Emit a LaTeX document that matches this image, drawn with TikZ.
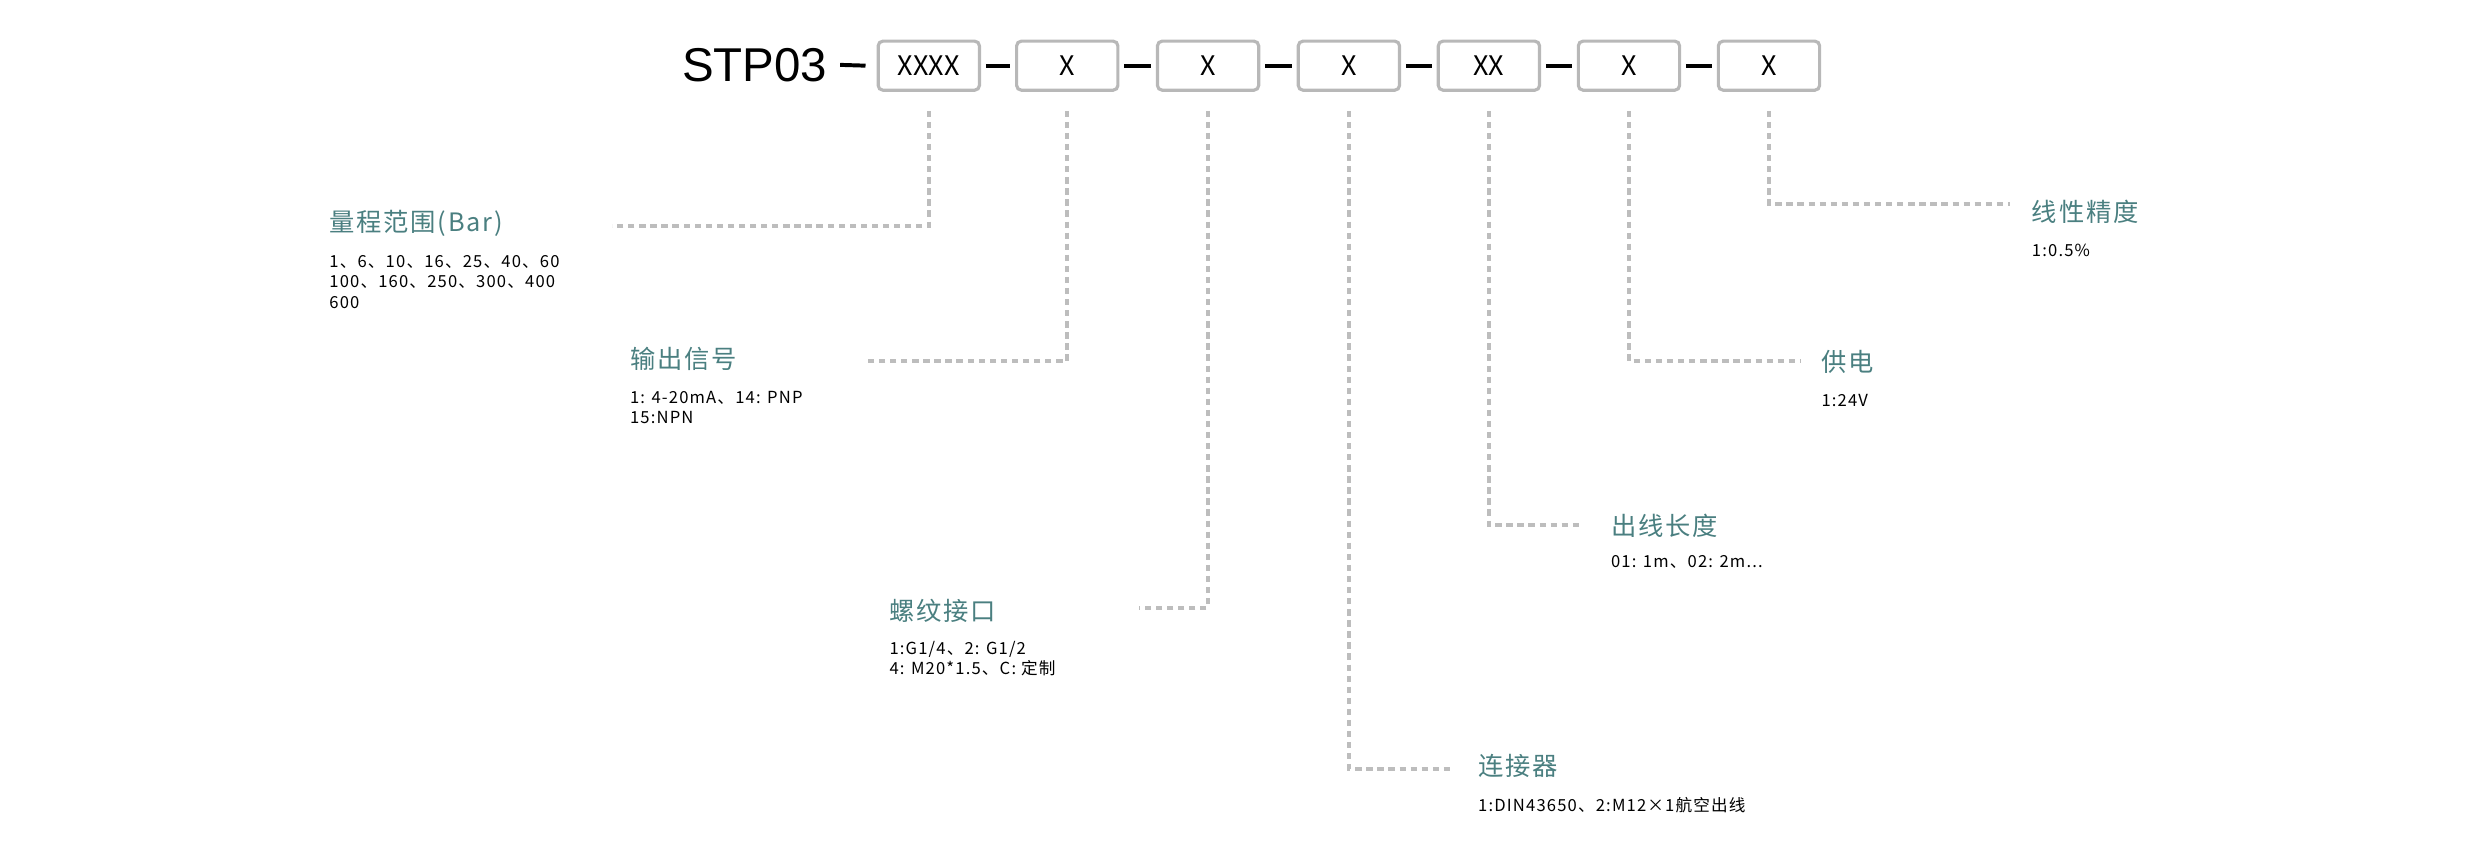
\documentclass[tikz,border=0pt]{standalone}
\usepackage{fontspec}
\setmainfont{Liberation Sans}
\newfontfamily\cjk{Noto Sans CJK SC}
\newfontfamily\cjkv[LetterSpace=7]{Noto Sans CJK SC}
\definecolor{teal1}{HTML}{4A7F80}
\definecolor{dgray}{HTML}{BDBDBD}
\definecolor{bgray}{HTML}{B8B8B8}
\begin{document}
\begin{tikzpicture}[x=1pt,y=-1pt,
  box/.style={draw=bgray,line width=2pt,rounded corners=3pt,minimum width=64pt,minimum height=31pt,inner sep=0pt,font=\cjk\fontsize{17}{17}\selectfont},
  lead/.style={draw=dgray,line width=2.5pt,dash pattern=on 4pt off 3pt},
  sep/.style={line width=2.5pt,black},
  ttl/.style={anchor=west,inner sep=0pt,text=teal1,font=\cjkv\fontsize{16}{16}\selectfont},
  val/.style={anchor=north west,inner sep=0pt,align=left,font=\cjkv\fontsize{10.5}{13}\selectfont}]
\useasboundingbox (0,0) rectangle (1568,543);
\node[anchor=east,inner sep=0pt,font=\fontsize{30}{30}\selectfont] (stp) at (523,41) {STP03};
\foreach \i/\x/\t in {1/587/XXXX,2/674.5/X,3/763.5/X,4/852.5/X,5/941/XX,6/1029.5/X,7/1118/X}{
  \node[box] (b\i) at (\x,41.5) {\t};
  \coordinate (t\i) at (\x,70);
}
\draw[sep] ([xshift=8pt]stp.east) -- ([xshift=-7pt]b1.west);
\foreach \a/\b in {1/2,2/3,3/4,4/5,5/6,6/7}{
  \draw[sep] ([xshift=3pt]b\a.east) -- ([xshift=-3pt]b\b.west);
}
% labels
\node[ttl] (l1) at (208,141) {量程范围(Bar)};
\node[val] (v1) at (208,161) {1、6、10、16、25、40、60\\100、160、250、300、400\\600};
\node[ttl] (l2) at (398,227) {输出信号};
\node[val] (v2) at (398,247) {1: 4-20mA、14: PNP\\15:NPN};
\node[ttl] (l3) at (562,386) {螺纹接口};
\node[val] (v3) at (562,405) {1:G1/4、2: G1/2\\4: M20*1.5、C: 定制};
\node[ttl] (l4) at (934,484) {连接器};
\node[val] (v4) at (934,504) {1:DIN43650、2:M12×1航空出线};
\node[ttl] (l5) at (1018,332) {出线长度};
\node[val] (v5) at (1018,351) {01: 1m、02: 2m...};
\node[ttl] (l6) at (1151,229) {供电};
\node[val] (v6) at (1151,249) {1:24V};
\node[ttl] (l7) at (1284,134) {线性精度};
\node[val] (v7) at (1284,154) {1:0.5\%};
\coordinate (e1) at (387,143);
\coordinate (e2) at (546,228);
\coordinate (e3) at (720,384);
\coordinate (e4) at (918,486);
\coordinate (e5) at (998,332);
\coordinate (e6) at (1138,228);
\coordinate (e7) at (1270,129);
\foreach \i in {1,...,7}{ \draw[lead] (t\i) |- (e\i); }
\end{tikzpicture}
\end{document}
